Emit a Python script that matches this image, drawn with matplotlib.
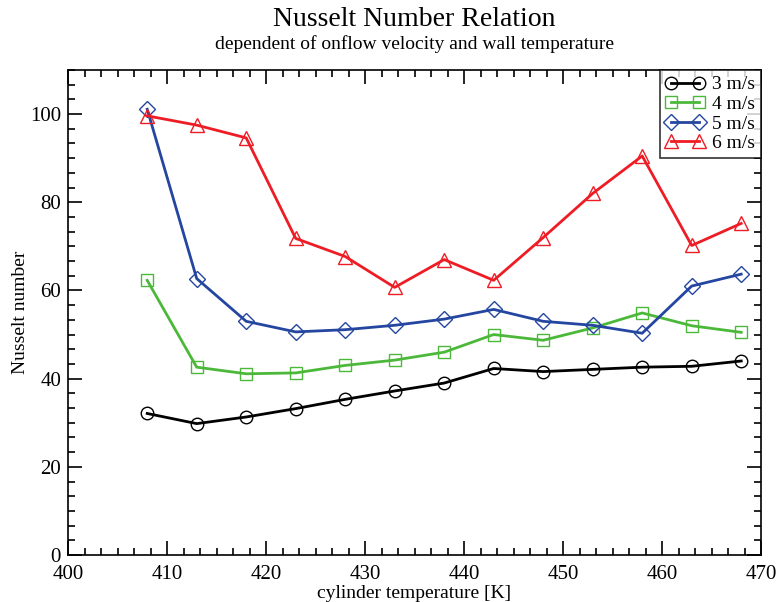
import numpy as np
import matplotlib.pyplot as plt
from matplotlib.ticker import MultipleLocator, AutoMinorLocator

# cylinder temperature [K]
temp = [408, 413, 418, 423, 428, 433, 438, 443, 448, 453, 458, 463, 468]

# Nusselt number per onflow velocity
nu_3 = [32.1, 29.8, 31.3, 33.2, 35.3, 37.2, 39.0, 42.3, 41.6, 42.1, 42.6, 42.8, 44.0]
nu_4 = [62.3, 42.6, 41.1, 41.3, 43.0, 44.2, 46.0, 50.0, 48.7, 51.5, 54.9, 52.0, 50.5]
nu_5 = [101.1, 62.7, 53.0, 50.6, 51.1, 52.1, 53.5, 55.7, 53.0, 52.1, 50.3, 61.0, 63.7]
nu_6 = [99.6, 97.5, 94.6, 71.8, 67.7, 60.7, 67.0, 62.3, 72.0, 82.0, 90.5, 70.2, 75.2]

labels = ['3 m/s', '4 m/s', '5 m/s', '6 m/s']

plt.rcParams['font.family'] = ['Liberation Serif', 'DejaVu Serif']

fig = plt.figure(figsize=(7.77, 6.02), dpi=100)
ax = fig.add_axes([68/777, 47/602, 693/777, 485/602])

series = [(nu_3, 'black', 'o', 9), (nu_4, '#4cb83a', 's', 8.5),
          (nu_5, '#2446a0', 'D', 8.5), (nu_6, '#ee1c24', '^', 10)]
for (y, c, m, ms), lab in zip(series, labels):
    ax.plot(temp, y, color=c, lw=2, marker=m, ms=ms, mfc='none',
            mec=c, mew=1.0, label=lab)

ax.set_xlim(400, 470)
ax.set_ylim(0, 110)
ax.xaxis.set_major_locator(MultipleLocator(10))
ax.xaxis.set_minor_locator(AutoMinorLocator(6))
ax.yaxis.set_major_locator(MultipleLocator(20))
ax.yaxis.set_minor_locator(AutoMinorLocator(6))
ax.tick_params(which='both', direction='in', top=True, right=True,
               labelsize=15, width=1.2)
ax.tick_params(which='major', length=10)
ax.tick_params(axis='x', which='major', pad=7)
ax.tick_params(axis='y', which='major', pad=5)
ax.tick_params(which='minor', length=5)
for sp in ax.spines.values():
    sp.set_linewidth(1.2)

ax.set_xlabel('cylinder temperature [K]', fontsize=14, labelpad=1)
ax.set_ylabel('Nusselt number', fontsize=14, labelpad=1)

mid = (68 + 761) / 2 / 777
fig.text(mid, 1 - 19/602, 'Nusselt Number Relation', ha='center',
         va='center', fontsize=20)
fig.text(mid, 1 - 44/602, 'dependent of onflow velocity and wall temperature',
         ha='center', va='center', fontsize=14)

leg = ax.legend(loc='upper right', borderaxespad=0, fontsize=14,
                frameon=True, fancybox=False, edgecolor='black',
                handlelength=2.0, handletextpad=0.4, labelspacing=0.1,
                borderpad=0.3, numpoints=2)
leg.get_frame().set_linewidth(1.2)

fig.savefig('out.png', dpi=100)
